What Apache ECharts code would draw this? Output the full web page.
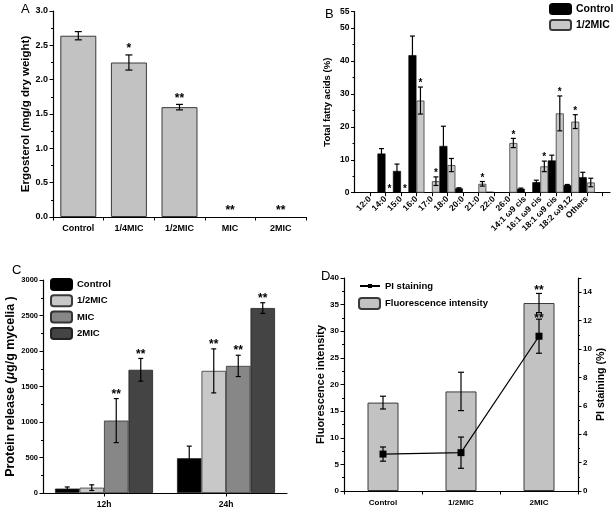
<!DOCTYPE html>
<html>
<head>
<meta charset="utf-8">
<script src="https://cdn.jsdelivr.net/npm/echarts@6/dist/echarts.min.js"></script>
<style>html,body{margin:0;padding:0;background:#fff;}#chart{width:614px;height:512px;}</style>
</head>
<body>
<div id="chart"></div>
<script>
// ---------- Panel A: ergosterol ----------
const catsA = ['Control', '1/4MIC', '1/2MIC', 'MIC', '2MIC'];
const ergValues = [2.64, 2.25, 1.60, 0, 0];
const ergErr = [0.06, 0.11, 0.04, 0, 0];
const ergStars = ['', '*', '**', '**', '**'];

// ---------- Panel B: fatty acids ----------
const catsB = ['12:0', '14:0', '15:0', '16:0', '17:0', '18:0', '20:0', '21:0', '22:0', '26:0',
  '14:1 ω9 cis', '16:1 ω9 cis', '18:1 ω9 cis', '18:2 ω9,12', 'Others'];
const fattyControl = [0, 11.9, 6.6, 41.8, 0, 14.2, 1.3, 0, 0.3, 0, 1.2, 3.2, 9.8, 2.3, 4.7];
const fattyControlErr = [0, 1.5, 2.1, 5.8, 0, 6.0, 0.2, 0, 0, 0, 0.2, 0.6, 1.6, 0.2, 1.5];
const fattyHalfMIC = [0, 0, 0, 28.0, 3.5, 8.4, 0, 2.7, 0, 15.1, 0, 8.0, 24.1, 21.6, 3.1];
const fattyHalfMICErr = [0, 0, 0, 4.1, 1.3, 2.0, 0, 0.7, 0, 1.4, 0, 1.6, 5.3, 2.1, 1.3];
const fattyStars = ['', '*', '*', '*', '*', '', '', '*', '', '*', '', '*', '*', '*', ''];
const noStars = ['', '', '', '', '', '', '', '', '', '', '', '', '', '', ''];

// ---------- Panel C: protein release ----------
const timeCats = ['12h', '24h'];
const protControl = [62, 490];
const protControlErr = [23, 170];
const protHalfMIC = [75, 1720];
const protHalfMICErr = [40, 310];
const protMIC = [1020, 1790];
const protMICErr = [310, 150];
const prot2MIC = [1735, 2605];
const prot2MICErr = [160, 75];
const protStarsControl = ['', ''];
const protStarsHalf = ['', '**'];
const protStarsMIC = ['**', '**'];
const protStars2MIC = ['**', '**'];

// ---------- Panel D: fluorescence / PI ----------
const catsD = ['Control', '1/2MIC', '2MIC'];
const fluoValues = [16.6, 18.7, 35.3];
const fluoErr = [1.2, 3.6, 1.8];
const fluoStars = ['', '', '**'];
const piValues = [2.6, 2.7, 10.9];
const piErr = [0.5, 1.1, 1.2];
const piStars = ['', '', '**'];

const FONT = '"Liberation Sans", Arial, sans-serif';
const black = '#000';
const nz = (v) => (v === 0 ? '-' : v);

function errorBars(xi, yi, xs, vals, errs, stars, offset, cap, starFont, starGap) {
  return {
    type: 'custom', xAxisIndex: xi, yAxisIndex: yi, z: 10, silent: true,
    data: vals.map((v, i) => [xs[i], v, errs[i]]),
    renderItem: function (params, api) {
      const i = params.dataIndex;
      const x = api.value(0), v = api.value(1), e = api.value(2);
      const base = api.coord([x, v]);
      const cx = base[0] + offset;
      const top = api.coord([x, v + e])[1];
      const bot = api.coord([x, v - e])[1];
      const children = [];
      const ls = {stroke: black, lineWidth: 1.2};
      if (e > 0) {
        children.push({type: 'line', shape: {x1: cx, y1: top, x2: cx, y2: bot}, style: ls});
        children.push({type: 'line', shape: {x1: cx - cap / 2, y1: top, x2: cx + cap / 2, y2: top}, style: ls});
        children.push({type: 'line', shape: {x1: cx - cap / 2, y1: bot, x2: cx + cap / 2, y2: bot}, style: ls});
      }
      if (stars[i]) {
        children.push({type: 'text', style: {
          text: stars[i], x: cx, y: top - starGap + 0.2 * starFont,
          align: 'center', verticalAlign: 'middle',
          font: 'bold ' + starFont + 'px ' + FONT, fill: black
        }});
      }
      return {type: 'group', children: children};
    }
  };
}

function axisCommon(fontSize) {
  return {
    axisLine: {show: true, lineStyle: {color: black, width: 1.2}},
    axisTick: {show: true, length: 3.5, lineStyle: {color: black, width: 1}},
    axisLabel: {color: black, fontFamily: FONT, fontWeight: 'bold', fontSize: fontSize, margin: 5},
    splitLine: {show: false}
  };
}

function valueAxis(grid, min, max, interval, fontSize, extra) {
  const c = axisCommon(fontSize);
  return Object.assign({
    type: 'value', gridIndex: grid, min: min, max: max, interval: interval,
    axisLine: c.axisLine, axisTick: c.axisTick, axisLabel: c.axisLabel, splitLine: c.splitLine,
    minorTick: {show: true, splitNumber: 2, length: 2, lineStyle: {color: black, width: 1}}
  }, extra || {});
}

const idx = (arr) => arr.map((_, i) => i);
const idxB = catsB.map((_, i) => i + 1);

const titleStyle = (size) => ({color: black, fontFamily: FONT, fontWeight: 'bold', fontSize: size});
const legendText = (size) => ({color: black, fontFamily: FONT, fontWeight: 'bold', fontSize: size});
const lbl = (size, extra) => Object.assign({color: black, fontFamily: FONT, fontWeight: 'bold', fontSize: size, margin: 5}, extra || {});

const option = {
  animation: false,
  backgroundColor: '#fff',
  grid: [
    {left: 53, top: 11, width: 253, height: 206},
    {left: 354.5, top: 11.7, width: 255.5, height: 181},
    {left: 43, top: 280, width: 244, height: 213},
    {left: 344, top: 278, width: 234, height: 213}
  ],
  xAxis: [
    Object.assign({type: 'category', gridIndex: 0, data: catsA}, axisCommon(9),
      {axisLabel: lbl(9, {margin: 7})}),
    {
      type: 'value', gridIndex: 1, min: 0, max: 16.5,
      axisLine: {show: true, lineStyle: {color: black, width: 1.2}},
      axisTick: {show: true, length: 3.5, lineStyle: {color: black}, customValues: idxB.concat([16])},
      axisLabel: lbl(8.5, {rotate: 45, customValues: idxB,
        formatter: (v) => catsB[Math.round(v) - 1] || ''}),
      splitLine: {show: false}
    },
    Object.assign({type: 'category', gridIndex: 2, data: timeCats}, axisCommon(8.5),
      {axisTick: {show: true, alignWithLabel: true, length: 3.5, lineStyle: {color: black}},
       axisLabel: lbl(8.5, {margin: 7})}),
    Object.assign({type: 'category', gridIndex: 3, data: catsD}, axisCommon(8),
      {axisLabel: lbl(8, {margin: 8})})
  ],
  yAxis: [
    valueAxis(0, 0, 3, 0.5, 9, {
      axisLabel: lbl(9, {formatter: (v) => v.toFixed(1)}),
      name: 'Ergosterol (mg/g dry weight)', nameLocation: 'middle', nameGap: 20,
      nameTextStyle: titleStyle(11.5)
    }),
    valueAxis(1, 0, 55, 10, 8.5, {
      axisLabel: lbl(8.5, {formatter: (v) => String(v)}),
      name: 'Total fatty acids (%)', nameLocation: 'middle', nameGap: 22,
      nameTextStyle: titleStyle(9.5)
    }),
    valueAxis(2, 0, 3000, 500, 7.5, {
      axisLabel: lbl(7.5, {formatter: (v) => String(v)}),
      name: '{n|Protein release (}{i|μ}{n|g/g mycelia )}', nameLocation: 'middle', nameGap: 23,
      nameTextStyle: Object.assign(titleStyle(12.5), {rich: {
        n: titleStyle(12.5),
        i: Object.assign(titleStyle(12.5), {fontStyle: 'italic'})
      }})
    }),
    valueAxis(3, 0, 40, 5, 8, {
      axisLabel: lbl(8, {formatter: (v) => String(v)}),
      name: 'Fluorescence intensity', nameLocation: 'middle', nameGap: 16,
      nameTextStyle: titleStyle(11)
    }),
    valueAxis(3, 0, 15, 2, 8, {
      position: 'right',
      axisLabel: lbl(8, {showMaxLabel: false, formatter: (v) => String(v)}),
      name: 'PI staining (%)', nameLocation: 'middle', nameGap: 18, nameRotate: 90,
      nameTextStyle: titleStyle(10.6)
    })
  ],
  legend: [
    {
      data: ['Control', '1/2MIC'], orient: 'vertical', left: 549, top: 3, padding: 0,
      itemWidth: 21, itemHeight: 10, itemGap: 4, textStyle: legendText(10.5), selectedMode: false
    },
    {
      data: ['Control', '1/2MIC', 'MIC', '2MIC'], orient: 'vertical', left: 50, top: 278, padding: 0,
      itemWidth: 21, itemHeight: 11, itemGap: 3.3, textStyle: legendText(9.5), selectedMode: false
    },
    {
      data: ['PI staining'], orient: 'vertical', left: 359, top: 281, padding: 0,
      itemWidth: 20, itemHeight: 5, textStyle: legendText(9.5), selectedMode: false
    },
    {
      data: ['Fluorescence intensity'], orient: 'vertical', left: 358, top: 297, padding: 0,
      itemWidth: 21, itemHeight: 11, textStyle: legendText(9.5), selectedMode: false
    }
  ],
  graphic: [
    {type: 'text', left: 21, top: 3, style: {text: 'A', font: '13px ' + FONT, fill: black}},
    {type: 'text', left: 325, top: 8, style: {text: 'B', font: '13px ' + FONT, fill: black}},
    {type: 'text', left: 12, top: 264, style: {text: 'C', font: '13px ' + FONT, fill: black}},
    {type: 'text', left: 321, top: 270, style: {text: 'D', font: '13px ' + FONT, fill: black}}
  ],
  series: [
    // A
    {
      type: 'bar', name: 'Ergosterol', xAxisIndex: 0, yAxisIndex: 0, data: ergValues.map(nz), barWidth: 36,
      itemStyle: {color: '#c2c2c2', borderColor: '#3a3a3a', borderWidth: 1}
    },
    errorBars(0, 0, idx(catsA), ergValues, ergErr, ergStars, 0, 7, 12, 8.5),
    // B
    {
      type: 'bar', name: 'Control', xAxisIndex: 1, yAxisIndex: 1, barWidth: 8, barGap: '0%',
      data: fattyControl.map((v, i) => [idxB[i], nz(v)]),
      itemStyle: {color: '#000', borderColor: '#000', borderWidth: 0.6}
    },
    {
      type: 'bar', name: '1/2MIC', xAxisIndex: 1, yAxisIndex: 1, barWidth: 8, barGap: '0%',
      data: fattyHalfMIC.map((v, i) => [idxB[i], nz(v)]),
      itemStyle: {color: '#c8c8c8', borderColor: '#3a3a3a', borderWidth: 0.8}
    },
    errorBars(1, 1, idxB, fattyControl, fattyControlErr, noStars, -4, 5, 10, 0),
    errorBars(1, 1, idxB, fattyHalfMIC, fattyHalfMICErr, fattyStars, 4, 5, 10, 5.5),
    // C
    {
      type: 'bar', name: 'Control', xAxisIndex: 2, yAxisIndex: 2, barWidth: 24.5, barGap: '0%', data: protControl,
      itemStyle: {color: '#000', borderColor: '#222', borderWidth: 0.8}
    },
    {
      type: 'bar', name: '1/2MIC', xAxisIndex: 2, yAxisIndex: 2, barWidth: 24.5, barGap: '0%', data: protHalfMIC,
      itemStyle: {color: '#c8c8c8', borderColor: '#333', borderWidth: 0.8}
    },
    {
      type: 'bar', name: 'MIC', xAxisIndex: 2, yAxisIndex: 2, barWidth: 24.5, barGap: '0%', data: protMIC,
      itemStyle: {color: '#878787', borderColor: '#333', borderWidth: 0.8}
    },
    {
      type: 'bar', name: '2MIC', xAxisIndex: 2, yAxisIndex: 2, barWidth: 24.5, barGap: '0%', data: prot2MIC,
      itemStyle: {color: '#444444', borderColor: '#222', borderWidth: 0.8}
    },
    errorBars(2, 2, idx(timeCats), protControl, protControlErr, protStarsControl, -36.75, 5, 12, 6.5),
    errorBars(2, 2, idx(timeCats), protHalfMIC, protHalfMICErr, protStarsHalf, -12.25, 5, 12, 6.5),
    errorBars(2, 2, idx(timeCats), protMIC, protMICErr, protStarsMIC, 12.25, 5, 12, 6.5),
    errorBars(2, 2, idx(timeCats), prot2MIC, prot2MICErr, protStars2MIC, 36.75, 5, 12, 6.5),
    // D
    {
      type: 'bar', name: 'Fluorescence intensity', xAxisIndex: 3, yAxisIndex: 3, data: fluoValues, barWidth: 31,
      itemStyle: {color: '#c2c2c2', borderColor: '#3a3a3a', borderWidth: 1}
    },
    errorBars(3, 3, idx(catsD), fluoValues, fluoErr, fluoStars, 0, 6, 12, 5),
    {
      type: 'line', name: 'PI staining', xAxisIndex: 3, yAxisIndex: 4, data: piValues,
      symbol: 'rect', symbolSize: 7, z: 12,
      lineStyle: {color: black, width: 1.2}, itemStyle: {color: black}
    },
    errorBars(3, 4, idx(catsD), piValues, piErr, piStars, 0, 6, 12, 2.5)
  ]
};

const chart = echarts.init(document.getElementById('chart'), null, {renderer: 'canvas'});
chart.setOption(option);
</script>
</body>
</html>
